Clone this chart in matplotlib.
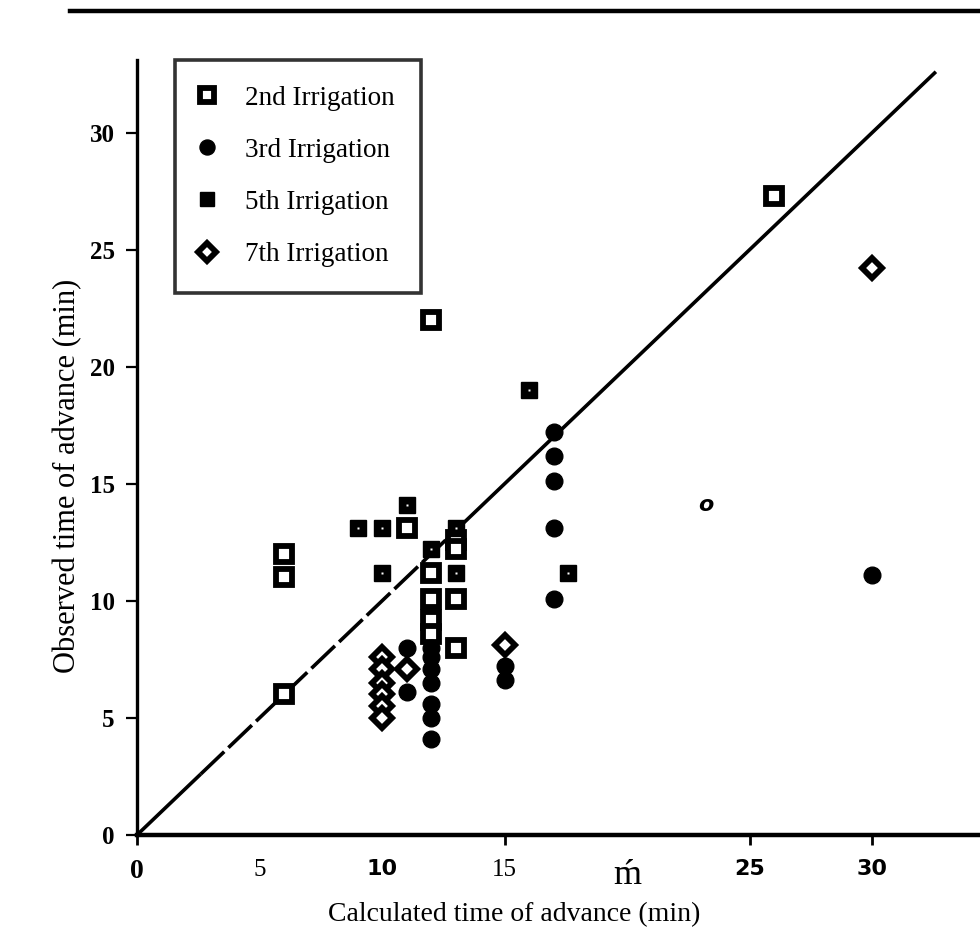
import matplotlib
matplotlib.use('Agg')
import matplotlib.pyplot as plt
from matplotlib.lines import Line2D

# Observed vs calculated advance time, one series per irrigation
second_x = [6, 6, 6, 12, 26, 11, 12, 12, 12, 12, 13, 13, 13, 13]
second_y = [12, 11, 6, 22, 27.3, 13.1, 11.2, 10.1, 9.2, 8.6, 12.6, 12.2, 10.1, 8]

third_x = [11, 11, 12, 12, 12, 12, 12, 12, 12, 15, 15, 17, 17, 17, 17, 17, 30]
third_y = [8, 6.1, 8, 7.6, 7.1, 6.5, 5.6, 5, 4.1, 7.2, 6.6, 17.2, 16.2, 15.1, 13.1, 10.1, 11.1]

fifth_x = [9, 10, 10, 11, 12, 13, 13, 16, 17.6]
fifth_y = [13.1, 13.1, 11.2, 14.1, 12.2, 13.1, 11.2, 19, 11.2]

seventh_x = [10, 10, 10, 10, 10, 10, 11, 15, 30]
seventh_y = [7.6, 7.1, 6.5, 6.0, 5.5, 5.0, 7.1, 8.1, 24.2]

x_ticks = [0, 5, 10, 15, 20, 25, 30]
x_tick_labels = ['0', '5', '10', '15', 'ḿ', '25', '30']
y_ticks = [0, 5, 10, 15, 20, 25, 30]

serif = 'Liberation Serif'

fig = plt.figure(figsize=(9.8, 9.44), dpi=100)
ax = fig.add_axes([0.1398, 0.1155, 0.8602, 0.8209])

# 1:1 line, broken up in its lower part
ax.plot([0, 2.6], [0, 2.6], color='black', lw=2.6, solid_capstyle='butt')
ax.plot([2.6, 13], [2.6, 13], color='black', lw=2.6, linestyle=(0, (9, 1.6)))
ax.plot([13, 32.6], [13, 32.6], color='black', lw=2.6, solid_capstyle='butt')

ax.plot(second_x, second_y, 's', ms=11, mfc='white', mec='black', mew=4.2,
        ls='none', label='2nd Irrigation')
ax.plot(third_x, third_y, 'o', ms=12, mfc='black', mec='black',
        ls='none', label='3rd Irrigation')
ax.plot(fifth_x, fifth_y, 's', ms=11.5, mfc='black', mec='black',
        ls='none', label='5th Irrigation')
ax.plot(seventh_x, seventh_y, 'D', ms=10, mfc='white', mec='black', mew=4.2,
        ls='none', label='7th Irrigation')
# small white dot in the 5th irrigation squares
ax.plot(fifth_x, fifth_y, 's', ms=2, mfc='white', mec='none', ls='none')

ax.text(23.2, 14.1, 'o', fontsize=16, fontweight='bold', style='italic',
        family='DejaVu Sans', ha='center', va='center')

ax.set_xlim(0, 34.4)
ax.set_ylim(0, 33.1)

for side in ['top', 'right']:
    ax.spines[side].set_visible(False)
ax.spines['left'].set_linewidth(2.4)
ax.spines['bottom'].set_linewidth(3.2)

ax.set_xticks(x_ticks)
ax.set_xticklabels(x_tick_labels)
ax.set_yticks(y_ticks)
ax.tick_params(axis='x', direction='out', length=7, width=2, pad=10)
ax.tick_params(axis='y', direction='out', length=8, width=1.6, pad=8)
for i, t in enumerate(ax.xaxis.get_major_ticks()):
    if x_ticks[i] in (5, 10, 20):
        t.tick1line.set_visible(False)

bold_narrow = {'10', '25', '30'}
for lbl in ax.get_xticklabels():
    txt = lbl.get_text()
    if txt in bold_narrow:
        lbl.set_fontfamily('Liberation Sans Narrow')
        lbl.set_fontweight('bold')
        lbl.set_fontsize(16)
    elif txt == 'ḿ':
        lbl.set_fontfamily(serif)
        lbl.set_fontsize(26)
    elif txt == '0':
        lbl.set_fontfamily(serif)
        lbl.set_fontweight('bold')
        lbl.set_fontsize(20)
    else:
        lbl.set_fontfamily(serif)
        lbl.set_fontsize(18)
for lbl in ax.get_yticklabels():
    lbl.set_fontfamily(serif)
    lbl.set_fontweight('bold')
    lbl.set_fontsize(18)

ax.set_xlabel('Calculated time of advance (min)', fontsize=20, family=serif)
ax.xaxis.set_label_coords(0.448, -0.103)
ax.xaxis.label.set_va('center')
ax.set_ylabel('Observed time of advance (min)', fontsize=22, family=serif)
ax.yaxis.set_label_coords(-0.082, 0.463)
ax.yaxis.label.set_va('center')

leg = ax.legend(loc='upper left', bbox_to_anchor=(0.045, 1.0), borderaxespad=0,
                frameon=True, fancybox=False, edgecolor='black',
                prop={'family': serif, 'size': 19.5}, labelspacing=1.0,
                handlelength=0.5, handletextpad=1.15, borderpad=0.95,
                markerscale=0.9)
leg.get_frame().set_linewidth(2.6)

# heavy rule across the top of the page
fig.add_artist(Line2D([0.071, 1.0], [0.988, 0.988], color='black', lw=3.2,
                      transform=fig.transFigure))

fig.savefig('out.png', dpi=100)
